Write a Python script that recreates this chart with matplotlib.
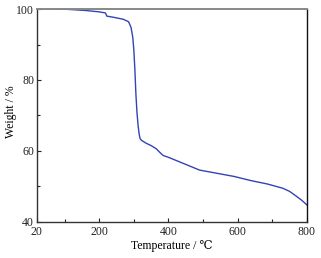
import numpy as np
import matplotlib
matplotlib.use("Agg")
import matplotlib.pyplot as plt
from matplotlib.ticker import FixedLocator

plt.rcParams['font.family'] = ['Liberation Serif', 'DejaVu Serif', 'Noto Sans CJK SC']

# TG curve
temp = [20, 60, 110, 160, 200, 218, 222, 240, 270, 285, 292, 297, 300, 303, 306,
        309, 312, 315, 318, 322, 335, 350, 365, 375, 385, 400, 440, 490, 540,
        590, 640, 685, 730, 750, 770, 785, 800]
weight = [100, 100, 99.9, 99.6, 99.2, 98.9, 98.0, 97.7, 97.1, 96.4, 94.8, 92.0,
          88.5, 83.0, 76.0, 71.0, 67.5, 65.0, 63.5, 63.0, 62.2, 61.5, 60.6, 59.6,
          58.7, 58.2, 56.6, 54.6, 53.7, 52.8, 51.6, 50.7, 49.5, 48.6, 47.2, 46.1,
          44.8]
xticks = [20, 200, 400, 600, 800]
yticks = [40, 60, 80, 100]

fig = plt.figure(figsize=(3.21, 2.58), dpi=100)
ax = fig.add_axes([0.115, 0.140, 0.841, 0.825])
ax.plot(temp, weight, color='#3343b5', lw=1.0)

ax.set_xlim(20, 800)
ax.set_ylim(40, 100)
ax.set_xticks(xticks)
ax.set_yticks(yticks)
ax.xaxis.set_minor_locator(FixedLocator([100, 300, 500, 700]))
ax.yaxis.set_minor_locator(FixedLocator([50, 70, 90]))
ax.tick_params(which='both', direction='in', top=False, right=False, labelsize=8.5,
               colors='#222222')
ax.tick_params(axis='x', pad=3)
ax.tick_params(axis='y', pad=2)
ax.tick_params(which='major', length=3, width=0.8)
ax.tick_params(which='minor', length=2, width=0.8)

for s in ['left', 'bottom']:
    ax.spines[s].set_color('#333333')
    ax.spines[s].set_linewidth(1.0)
ax.spines['right'].set_color('#111111')
ax.spines['right'].set_linewidth(1.0)
ax.spines['top'].set_color('#888888')
ax.spines['top'].set_linewidth(1.4)

ax.set_xlabel('Temperature / ℃', fontsize=8.5, labelpad=1.5)
ax.set_ylabel('Weight / %', fontsize=8.5)
ax.yaxis.set_label_coords(-0.075, 0.52)

plt.savefig('out.png', dpi=100)
